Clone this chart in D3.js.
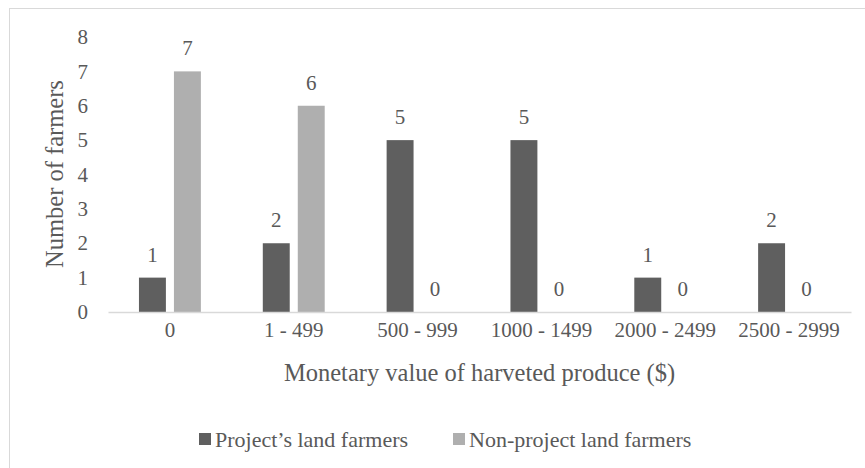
<!DOCTYPE html>
<meta charset="utf-8">
<title>Harvested produce</title>
<style>
body {
  margin: 0;
  background: #fff;
  font-family: "Liberation Serif";
}
svg text {
  fill: #595959;
  font-family: "Liberation Serif";
}
</style>
<body>
<div id="vis"></div>
<script src="https://cdn.jsdelivr.net/npm/d3@7"></script>
<script>

var categories = ["0", "1 - 499", "500 - 999", "1000 - 1499", "2000 - 2499", "2500 - 2999"];
var seriesNames = ["Project\u2019s land farmers", "Non-project land farmers"];
var projectValues = [1, 2, 5, 5, 1, 2];
var nonProjectValues = [7, 6, 0, 0, 0, 0];
var yTicks = [0, 1, 2, 3, 4, 5, 6, 7, 8];
var colors = ["#5f5f5f", "#afafaf"];

var width = 865,
    height = 468,
    serif = "Liberation Serif";

var svg = d3.select("#vis").append("svg")
    .attr("width", width)
    .attr("height", height)
    .attr("font-family", serif);

// chart frame, cut off on the right and bottom like the original
svg.append("rect")
    .attr("x", 9.5)
    .attr("y", 8.5)
    .attr("width", width + 20)
    .attr("height", height + 20)
    .attr("fill", "none")
    .attr("stroke", "#d9d9d9");

var x0 = d3.scaleBand()
    .domain(categories)
    .range([108, 851]);

var x1 = d3.scaleBand()
    .domain(d3.range(seriesNames.length))
    .range([x0.bandwidth() * 0.25, x0.bandwidth() * 0.75])
    .paddingInner(0.23);

var y = d3.scaleLinear()
    .domain([0, 8])
    .range([312, 37]);

var rows = categories.map(function(c, i) {
  return { cat: c, values: [projectValues[i], nonProjectValues[i]] };
});

var group = svg.selectAll(".cat")
    .data(rows)
  .enter().append("g")
    .attr("class", "cat")
    .attr("transform", function(d) { return "translate(" + x0(d.cat) + ",0)"; });

group.selectAll("rect")
    .data(function(d) { return d.values; })
  .enter().append("rect")
    .attr("x", function(d, i) { return x1(i); })
    .attr("y", function(d) { return y(d); })
    .attr("width", x1.bandwidth())
    .attr("height", function(d) { return y(0) - y(d); })
    .attr("fill", function(d, i) { return colors[i]; });

group.selectAll(".val")
    .data(function(d) { return d.values; })
  .enter().append("text")
    .attr("class", "val")
    .attr("x", function(d, i) { return x1(i) + x1.bandwidth() / 2; })
    .attr("y", function(d) { return y(d) - 16; })
    .attr("text-anchor", "middle")
    .style("font-size", "21px")
    .text(function(d) { return d; });

// x axis
var xAxis = svg.append("g")
    .attr("transform", "translate(0," + y(0) + ")")
    .call(d3.axisBottom(x0).tickSize(0).tickPadding(10))
    .attr("font-family", serif);
xAxis.select(".domain").attr("stroke", "#d9d9d9").attr("stroke-width", 1.5);
xAxis.selectAll("text")
    .style("font-size", "21px")
    .attr("fill", "#595959");

// y axis
var yAxis = svg.append("g")
    .attr("transform", "translate(88,0)")
    .call(d3.axisLeft(y).tickValues(yTicks).tickSize(0).tickPadding(0))
    .attr("font-family", serif);
yAxis.select(".domain").remove();
yAxis.selectAll("text")
    .style("font-size", "21px")
    .attr("fill", "#595959");

svg.append("text")
    .attr("x", 479.5)
    .attr("y", 381)
    .attr("text-anchor", "middle")
    .style("font-size", "24.5px")
    .text("Monetary value of harveted produce ($)");

svg.append("text")
    .attr("transform", "translate(63,174) rotate(-90)")
    .attr("text-anchor", "middle")
    .style("font-size", "24.5px")
    .text("Number of farmers");

// legend
var legendX = [199, 453];
var legend = svg.selectAll(".legend")
    .data(seriesNames)
  .enter().append("g")
    .attr("class", "legend")
    .attr("transform", function(d, i) { return "translate(" + legendX[i] + ",439)"; });

legend.append("rect")
    .attr("x", 0)
    .attr("y", -6)
    .attr("width", 12)
    .attr("height", 12)
    .attr("fill", function(d, i) { return colors[i]; });

legend.append("text")
    .attr("x", 16)
    .attr("y", 7.5)
    .style("font-size", "22px")
    .text(function(d) { return d; });

</script>
</body>
